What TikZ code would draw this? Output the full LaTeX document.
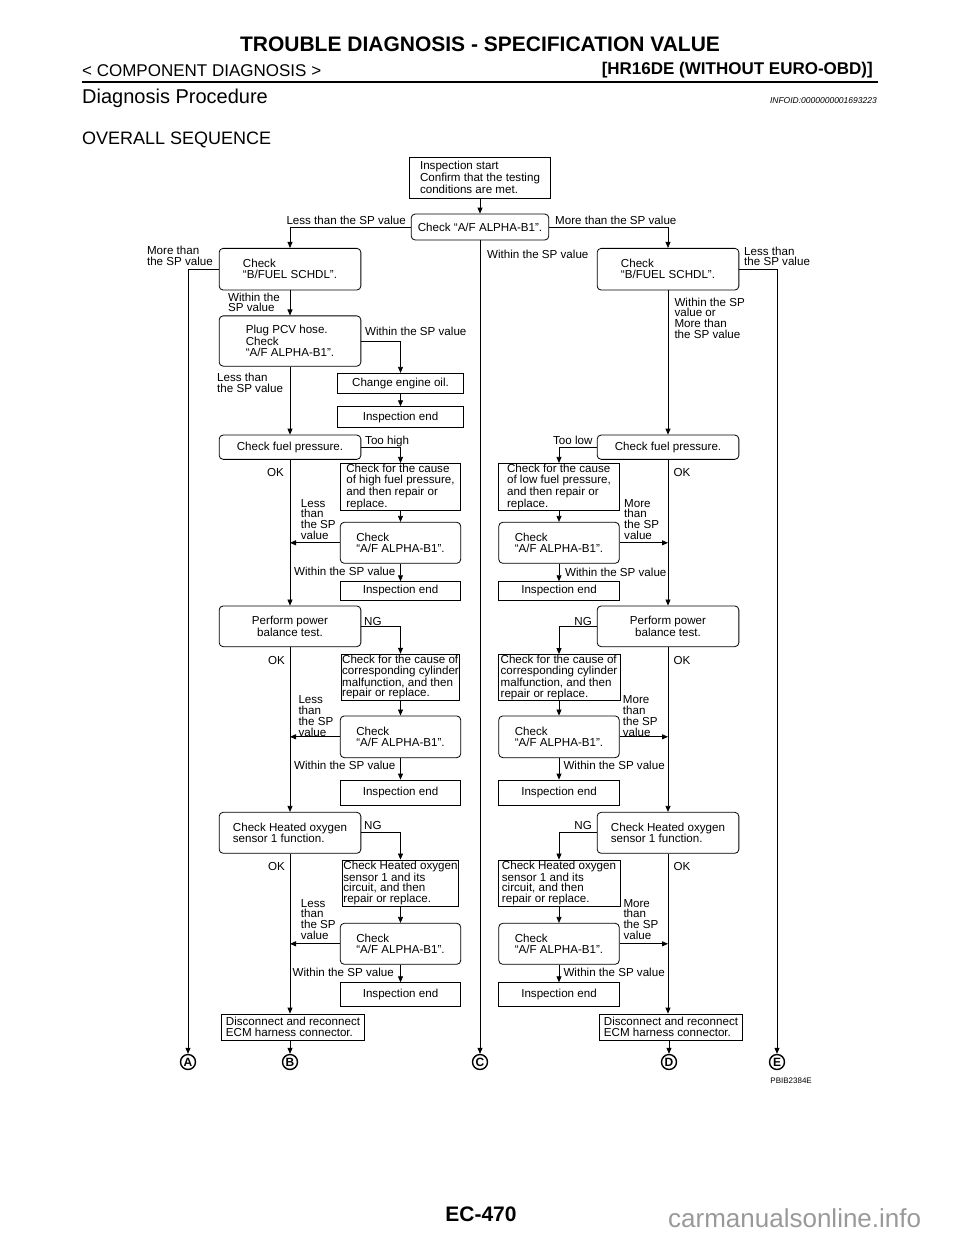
\documentclass[tikz,border=0pt]{standalone}
\usepackage{fontspec}
\setmainfont{Liberation Sans}
\usetikzlibrary{arrows.meta,positioning,calc}

\newcommand\dgfont{\fontsize{11.6}{10.7}\selectfont}

\tikzset{
  box/.style={draw, line width=0.8pt, inner sep=1pt, align=left, font=\dgfont},
  rbox/.style={box, rounded corners=4pt},
  mainw/.style={minimum width=141.7pt},
  subw/.style={minimum width=120.5pt},
  flow/.style={line width=0.8pt, -{Triangle[length=6pt,width=5pt]}},
  lbl/.style={inner sep=0pt, align=left, font=\dgfont},
  conn/.style={circle, draw, line width=1.4pt, inner sep=0pt, minimum size=15pt,
    font=\bfseries\fontsize{12}{12}\selectfont},
}

\begin{document}
\begin{tikzpicture}[x=1pt, y=-1pt]
  \useasboundingbox (0,0) rectangle (960,1242);

  % Page header
  \node[anchor=base, inner sep=0pt, font=\bfseries\fontsize{21}{21}\selectfont] (title) at (480,51.7) {TROUBLE DIAGNOSIS - SPECIFICATION VALUE};
  \node[anchor=base west, inner sep=0pt, font=\fontsize{17}{17}\selectfont] (comp) at (82,76) {< COMPONENT DIAGNOSIS >};
  \node[anchor=base east, inner sep=0pt, font=\bfseries\fontsize{17}{17}\selectfont] (engine) at (873,74) {[HR16DE (WITHOUT EURO-OBD)]};
  \draw[line width=2.3pt] (comp.west |- 0,82) coordinate (ruleL) -- (878,82) coordinate (ruleR);
  \node[anchor=base west, inner sep=0pt, font=\fontsize{20}{20}\selectfont] (proc) at (82,103) {Diagnosis Procedure};
  \node[anchor=base east, inner sep=0pt, font=\itshape\fontsize{8.5}{8.5}\selectfont] (infoid) at (877,103) {INFOID:0000000001693223};
  \node[anchor=base west, inner sep=0pt, font=\fontsize{18}{18}\selectfont] (seq) at (82,144) {OVERALL SEQUENCE};

  % Start
  \node[box, minimum width=141pt, minimum height=41pt] (start) at (480,177.5) {Inspection start\\Confirm that the testing\\conditions are met.};
  \node[rbox, minimum width=137.6pt, minimum height=26pt] (chk0) at (480,227) {Check “A/F ALPHA-B1”.};

  % Connectors A-E
  \node[conn] (cA) at (188,1062) {A};
  \node[conn] (cB) at (290,1062) {B};
  \node[conn] (cC) at (480,1062) {C};
  \node[conn] (cD) at (669,1062) {D};
  \node[conn] (cE) at (777,1062) {E};
  \node[anchor=base east, inner sep=0pt, font=\fontsize{8}{8}\selectfont] (figid) at (812,1083) {PBIB2384E};

  % Left branch boxes
  \node[rbox, mainw, minimum height=41.7pt] (bfL) at (290,269.2) {Check\\“B/FUEL SCHDL”.};
  \node[rbox, mainw, minimum height=50.3pt] (pcv) at (290,341) {Plug PCV hose.\\Check\\“A/F ALPHA-B1”.};
  \node[box, minimum width=126.7pt, minimum height=20pt] (oil) at (400.5,383.3) {Change engine oil.};
  \node[box, minimum width=126.7pt, minimum height=21pt] (end0) at (400.5,417.2) {Inspection end};
  \node[rbox, mainw, minimum height=24.3pt] (fpL) at (290,447.2) {Check fuel pressure.};
  \node[box, subw, minimum height=47.4pt] (hiF) at (400.5,487) {Check for the cause\\of high fuel pressure,\\and then repair or\\replace.};
  \node[rbox, subw, minimum height=41pt] (chk1L) at (400.5,542.8) {Check\\“A/F ALPHA-B1”.};
  \node[box, subw, minimum height=18.3pt] (end1L) at (400.5,590.8) {Inspection end};
  \node[rbox, mainw, minimum height=40.7pt, align=center] (pbL) at (290,626.3) {Perform power\\balance test.};
  \node[box, minimum width=118.7pt, minimum height=42.3pt] (cylL) at (400.5,677.2) {Check for the cause of\\corresponding cylinder\\malfunction, and then\\repair or replace.};
  \node[rbox, subw, minimum height=41.7pt] (chk2L) at (400.5,736.8) {Check\\“A/F ALPHA-B1”.};
  \node[box, subw, minimum height=25pt] (end2L) at (400.5,792.5) {Inspection end};
  \node[rbox, mainw, minimum height=41pt] (hoL) at (290,832.8) {Check Heated oxygen\\sensor 1 function.};
  \node[box, minimum width=116pt, minimum height=46pt] (hsL) at (400.5,883) {Check Heated oxygen\\sensor 1 and its\\circuit, and then\\repair or replace.};
  \node[rbox, subw, minimum height=41pt] (chk3L) at (400.5,943.8) {Check\\“A/F ALPHA-B1”.};
  \node[box, subw, minimum height=24pt] (end3L) at (400.5,994.7) {Inspection end};
  \node[box, minimum width=143pt, minimum height=26pt] (discL) at (293,1027) {Disconnect and reconnect\\ECM harness connector.};

  % Right branch boxes
  \node[rbox, mainw, minimum height=41.7pt] (bfR) at (668,269.2) {Check\\“B/FUEL SCHDL”.};
  \node[rbox, mainw, minimum height=24.3pt] (fpR) at (668,447.2) {Check fuel pressure.};
  \node[box, subw, minimum height=47.4pt] (loF) at (559,487) {Check for the cause\\of low fuel pressure,\\and then repair or\\replace.};
  \node[rbox, subw, minimum height=41pt] (chk1R) at (559,542.8) {Check\\“A/F ALPHA-B1”.};
  \node[box, subw, minimum height=18.3pt] (end1R) at (559,590.8) {Inspection end};
  \node[rbox, mainw, minimum height=40.7pt, align=center] (pbR) at (668,626.3) {Perform power\\balance test.};
  \node[box, minimum width=122pt, minimum height=42.3pt] (cylR) at (559,677.5) {Check for the cause of\\corresponding cylinder\\malfunction, and then\\repair or replace.};
  \node[rbox, subw, minimum height=41.7pt] (chk2R) at (559,736.8) {Check\\“A/F ALPHA-B1”.};
  \node[box, subw, minimum height=25pt] (end2R) at (559,792.5) {Inspection end};
  \node[rbox, mainw, minimum height=41pt] (hoR) at (668,832.8) {Check Heated oxygen\\sensor 1 function.};
  \node[box, minimum width=122pt, minimum height=46pt] (hsR) at (559,883) {Check Heated oxygen\\sensor 1 and its\\circuit, and then\\repair or replace.};
  \node[rbox, subw, minimum height=41pt] (chk3R) at (559,943.8) {Check\\“A/F ALPHA-B1”.};
  \node[box, subw, minimum height=24pt] (end3R) at (559,994.7) {Inspection end};
  \node[box, minimum width=143pt, minimum height=26pt] (discR) at (671,1027) {Disconnect and reconnect\\ECM harness connector.};

  % Main flow
  \draw[flow] (start) -- (chk0);
  \draw[flow] (chk0.west) -| (bfL.north);
  \draw[flow] (chk0.east) -| (bfR.north);
  \draw[flow] (chk0.south) -- (cC.north);
  \draw[flow] (bfL.west) -| (cA.north);
  \draw[flow] (bfR.east) -| (cE.north);
  \node[lbl, anchor=base east] (tLessTop) at (406,224) {Less than the SP value};
  \node[lbl, anchor=base west] (tMoreTop) at (555,224) {More than the SP value};
  \node[lbl, anchor=base west] (tWithinC) at (487,258) {Within the SP value};
  \node[lbl, anchor=north east] (tMoreA) at (213,245.7) {More than\\the SP value};
  \node[lbl, anchor=north west] (tLessE) at (744,246.4) {Less than\\the SP value};

  % Left branch flow
  \draw[flow] (bfL) -- (pcv);
  \draw[flow] (pcv.east) -| (oil.north);
  \draw[flow] (oil) -- (end0);
  \draw[flow] (pcv) -- (fpL);
  \draw[flow] (fpL.east) -| (hiF.north);
  \draw[flow] (hiF) -- (chk1L);
  \draw[flow] (chk1L.west) -- (chk1L.west -| fpL.south);
  \draw[flow] (chk1L) -- (end1L);
  \draw[flow] (fpL) -- (pbL);
  \draw[flow] (pbL.east) -| (cylL.north);
  \draw[flow] (cylL) -- (chk2L);
  \draw[flow] (chk2L.west) -- (chk2L.west -| pbL.south);
  \draw[flow] (chk2L) -- (end2L);
  \draw[flow] (pbL) -- (hoL);
  \draw[flow] (hoL.east) -| (hsL.north);
  \draw[flow] (hsL) -- (chk3L);
  \draw[flow] (chk3L.west) -- (chk3L.west -| hoL.south);
  \draw[flow] (chk3L) -- (end3L);
  \draw[flow] (hoL.south) -- (hoL.south |- discL.north);
  \draw[flow] (discL.south -| cB) -- (cB.north);
  \node[lbl, anchor=north west] (tWithinBF) at (228,292.4) {Within the\\SP value};
  \node[lbl, anchor=base west] (tWithinPCV) at (365,335) {Within the SP value};
  \node[lbl, anchor=north west] (tLessPCV) at (217,372.7) {Less than\\the SP value};
  \node[lbl, anchor=base west] (tHigh) at (365,444) {Too high};
  \node[lbl, anchor=base east] (tOK1L) at (284,476) {OK};
  \node[lbl, anchor=north west] (tLess1) at (300.7,499.1) {Less\\than\\the SP\\value};
  \node[lbl, anchor=base east] (tWithin1L) at (395.5,575) {Within the SP value};
  \node[lbl, anchor=base west] (tNG2L) at (364,625) {NG};
  \node[lbl, anchor=base east] (tOK2L) at (285,664) {OK};
  \node[lbl, anchor=north west] (tLess2) at (298.3,695.8) {Less\\than\\the SP\\value};
  \node[lbl, anchor=base east] (tWithin2L) at (395.5,769) {Within the SP value};
  \node[lbl, anchor=base west] (tNG3L) at (364,829) {NG};
  \node[lbl, anchor=base east] (tOK3L) at (285,870) {OK};
  \node[lbl, anchor=north west] (tLess3) at (300.7,899.1) {Less\\than\\the SP\\value};
  \node[lbl, anchor=base east] (tWithin3L) at (394,976) {Within the SP value};

  % Right branch flow
  \draw[flow] (bfR) -- (fpR);
  \draw[flow] (fpR.west) -| (loF.north);
  \draw[flow] (loF) -- (chk1R);
  \draw[flow] (chk1R.east) -- (chk1R.east -| fpR.south);
  \draw[flow] (chk1R) -- (end1R);
  \draw[flow] (fpR) -- (pbR);
  \draw[flow] (pbR.west) -| (cylR.north);
  \draw[flow] (cylR) -- (chk2R);
  \draw[flow] (chk2R.east) -- (chk2R.east -| pbR.south);
  \draw[flow] (chk2R) -- (end2R);
  \draw[flow] (pbR) -- (hoR);
  \draw[flow] (hoR.west) -| (hsR.north);
  \draw[flow] (hsR) -- (chk3R);
  \draw[flow] (chk3R.east) -- (chk3R.east -| hoR.south);
  \draw[flow] (chk3R) -- (end3R);
  \draw[flow] (hoR.south) -- (hoR.south |- discR.north);
  \draw[flow] (discR.south -| cD) -- (cD.north);
  \node[lbl, anchor=north west] (tWithinBFR) at (674.3,297.4) {Within the SP\\value or\\More than\\the SP value};
  \node[lbl, anchor=base east] (tLow) at (592.7,444) {Too low};
  \node[lbl, anchor=base west] (tOK1R) at (673.3,476) {OK};
  \node[lbl, anchor=north west] (tMore1) at (624,499.1) {More\\than\\the SP\\value};
  \node[lbl, anchor=base west] (tWithin1R) at (565,576) {Within the SP value};
  \node[lbl, anchor=base east] (tNG2R) at (592,625) {NG};
  \node[lbl, anchor=base west] (tOK2R) at (673.3,664) {OK};
  \node[lbl, anchor=north west] (tMore2) at (622.7,695.8) {More\\than\\the SP\\value};
  \node[lbl, anchor=base west] (tWithin2R) at (563.3,769) {Within the SP value};
  \node[lbl, anchor=base east] (tNG3R) at (592,829) {NG};
  \node[lbl, anchor=base west] (tOK3R) at (673.3,870) {OK};
  \node[lbl, anchor=north west] (tMore3) at (623.3,899.1) {More\\than\\the SP\\value};
  \node[lbl, anchor=base west] (tWithin3R) at (563.3,976) {Within the SP value};

  % Page footer
  \node[anchor=base, inner sep=0pt, font=\bfseries\fontsize{21}{21}\selectfont] (page) at (481,1221.5) {EC-470};
  \node[anchor=base west, inner sep=0pt, text=black!40, font=\fontsize{26}{26}\selectfont] (site) at (668,1227) {carmanualsonline.info};
\end{tikzpicture}
\end{document}
